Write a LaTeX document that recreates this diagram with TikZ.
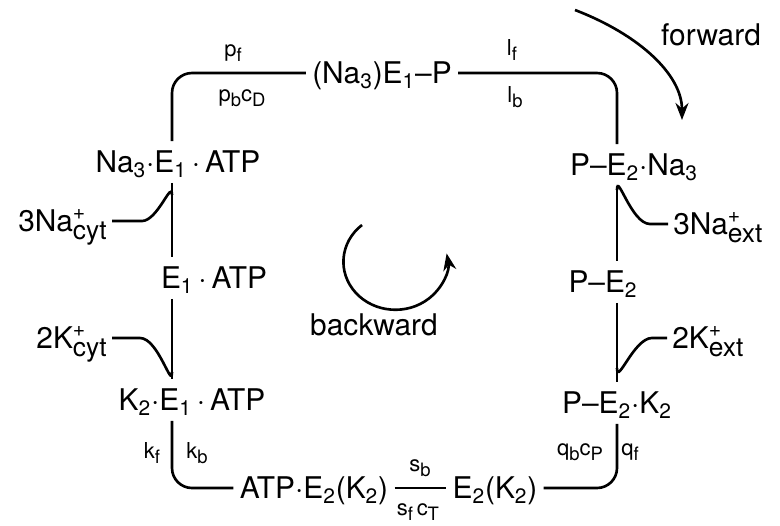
\documentclass[tikz,border=0pt]{standalone}
\usepackage{fontspec}
\setmainfont{TeX Gyre Heros}
\usetikzlibrary{arrows.meta,calc}
\newcommand{\rsub}[1]{\raisebox{-3pt}{\fontsize{10.5}{11}\selectfont#1}}
\newcommand{\ionsfx}[2]{\rlap{\raisebox{7pt}{\fontsize{12}{12}\selectfont#1}}\raisebox{-4.5pt}{\fontsize{15}{15}\selectfont#2}}
\tikzset{
  >={Stealth[length=3.4mm,width=2.6mm]},
  species/.style={inner xsep=1.2mm,inner ysep=2mm,text height=12pt,text depth=0pt,
    font=\fontsize{17}{20}\selectfont},
  ion/.style={species,inner xsep=1mm},
  rate/.style={inner sep=0pt,font=\fontsize{12.5}{14}\selectfont},
  cycle/.style={line width=1.5pt,rounded corners=4mm},
  branch/.style={line width=1.5pt},
  sense/.style={->,line width=1.5pt},
}

\begin{document}
\begin{tikzpicture}[x=0.2mm,y=-0.2mm]
  \useasboundingbox (0,0) rectangle (780,526);
  \coordinate (lcol) at (172,0);
  \coordinate (rcol) at (617,0);

  % states of the pump
  \foreach \n/\x/\y/\t in {
    top/382/73/(Na\textsubscript{3})E\textsubscript{1}–P,
    na3e1/178/162/Na\textsubscript{3}·E\textsubscript{1}\,·\,ATP,
    e1atp/214/278/E\textsubscript{1}\,·\,ATP,
    k2e1/192/400/K\textsubscript{2}·E\textsubscript{1}\,·\,ATP,
    atpe2/314/488/ATP·E\textsubscript{2}(K\textsubscript{2}),
    e2k2/495/488/E\textsubscript{2}(K\textsubscript{2}),
    pe2k2/617/403/P–E\textsubscript{2}·K\textsubscript{2},
    pe2/603/282/P–E\textsubscript{2},
    pe2na3/634/165/P–E\textsubscript{2}·Na\textsubscript{3}}
    \node[species] (\n) at (\x,\y) {\t};

  \draw[cycle] (na3e1.north -| lcol) |- (top.west);
  \draw[cycle] (top.east) -| (pe2na3.north -| rcol);
  \draw[cycle] (na3e1.south -| lcol) -- (e1atp.north -| lcol);
  \draw[cycle] (e1atp.south -| lcol) -- (k2e1.north -| lcol);
  \draw[cycle] (k2e1.south -| lcol) |- (atpe2.west);
  \draw[cycle] (atpe2.east) -- (e2k2.west);
  \draw[cycle] (e2k2.east) -| (pe2k2.south -| rcol);
  \draw[cycle] (pe2na3.south -| rcol) -- (pe2.north -| rcol);
  \draw[cycle] (pe2.south -| rcol) -- (pe2k2.north -| rcol);

  % rate constants
  \foreach \n/\x/\y/\t in {
    pf/233/53/p\rsub{f}, pbcd/242/98/p\rsub{b}c\rsub{D},
    lf/512/50/l\rsub{f}, lb/515/97/l\rsub{b},
    kf/152/453/k\rsub{f}, kb/197/453/k\rsub{b},
    qbcp/580/452/q\rsub{b}c\rsub{P}, qf/630/452/q\rsub{f},
    sb/420/468/s\rsub{b}, sfct/418/512/s\rsub{f}\,c\rsub{T}}
    \node[rate] (\n) at (\x,\y) {\t};

  % ions
  \node[ion,anchor=east] (nacyt) at (112,221) {3Na\ionsfx{+}{cyt}};
  \node[ion,anchor=east] (kcyt) at (112,338) {2K\ionsfx{+}{cyt}};
  \node[ion,anchor=west] (naext) at (668,224) {3Na\ionsfx{+}{ext}};
  \node[ion,anchor=west] (kext) at (667,338) {2K\ionsfx{+}{ext}};
  \coordinate (nacytj) at (172,195);
  \coordinate (kcytj) at (172,372);
  \coordinate (naextj) at (617,190);
  \coordinate (kextj) at (617,368);
  \draw[branch] (nacyt.east) -- ++(30,0) to[out=0,in=90] (nacytj);
  \draw[branch] (kcyt.east) -- ++(28,0) to[out=0,in=270] (kcytj);
  \draw[branch] (naextj) to[out=90,in=180] ++(33,34) -- (naext.west);
  \draw[branch] (kext.west) -- ++(-15,0) to[out=180,in=270] (kextj);

  % sense of the cycle
  \node[species] (fwd) at (711,35) {forward};
  \node[species] (bwd) at (374,325) {backward};
  \coordinate (fwdstart) at (575,10);
  \coordinate (fwdend) at (682,120);
  \draw[sense] (fwdstart) .. controls (640,35) and (682,75) .. (fwdend);
  \coordinate (bwdstart) at (362,225);
  \draw[sense] (bwdstart) arc[start angle=230,end angle=-10,x radius=52,y radius=48];
\end{tikzpicture}
\end{document}
